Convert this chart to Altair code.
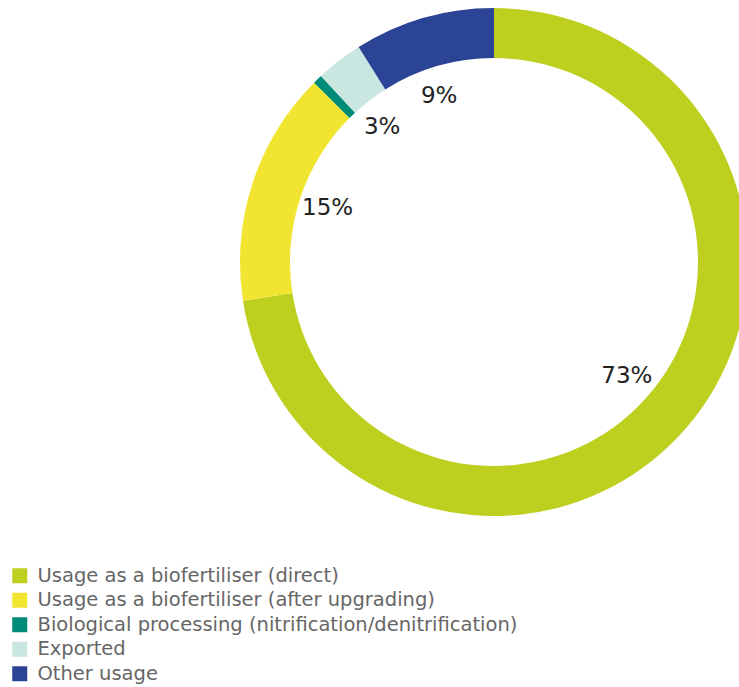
import altair as alt
import pandas as pd

categories = [
    "Usage as a biofertiliser (direct)",
    "Usage as a biofertiliser (after upgrading)",
    "Biological processing (nitrification/denitrification)",
    "Exported",
    "Other usage",
]
values = [73, 15, 0.6, 3, 9]
labels = ["73%", "15%", "<1%", "3%", "9%"]
colors = ["#BDD020", "#F2E532", "#008A78", "#CAE6E1", "#2B4496"]

df = pd.DataFrame({
    "category": categories,
    "value": values,
    "label": labels,
    "order": list(range(len(categories))),
})

cx, cy = 494, 262
FONT = "DejaVu Sans"

base = alt.Chart(df).encode(
    theta=alt.Theta("value:Q", stack=True),
    order=alt.Order("order:Q"),
    x=alt.value(cx),
    y=alt.value(cy),
)

arcs = base.mark_arc(innerRadius=204, outerRadius=254, stroke=None).encode(
    color=alt.Color(
        "category:N",
        scale=alt.Scale(domain=categories, range=colors),
        sort=categories,
        legend=alt.Legend(
            title=None,
            orient="none",
            legendX=10,
            legendY=566,
            symbolType="square",
            symbolSize=225,
            symbolStrokeWidth=0,
            labelFontSize=19.5,
            labelColor="#666666",
            labelFont=FONT,
            labelOffset=8,
            rowPadding=3.5,
            labelLimit=700,
        ),
    )
)

text_in = base.transform_filter(alt.datum.label != "<1%").mark_text(
    radius=175, fontSize=23, font=FONT, color="#222222"
).encode(text="label:N")

text_out = base.transform_filter(alt.datum.label == "<1%").mark_text(
    radius=285, fontSize=23, font=FONT, color="#222222"
).encode(text="label:N")

chart = (arcs + text_in + text_out).properties(
    width=739, height=687, autosize=alt.AutoSizeParams(type="none"), padding=0
).configure_view(stroke=None)

chart.save("out.html", embed_options={"renderer": "svg", "actions": False})
